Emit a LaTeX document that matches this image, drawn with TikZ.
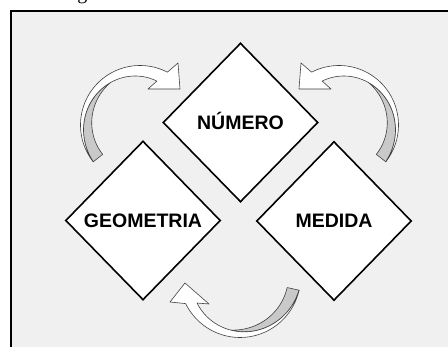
\documentclass[tikz,border=0pt]{standalone}
\usepackage{fontspec}
\setmainfont{Liberation Sans}
\newfontfamily\capserif{Liberation Serif}
\usetikzlibrary{shapes.geometric}

% W(theta): edge between white and grey faces; G(theta): inner edge of grey face
\newcommand\ribW{(\aR+(\aRW-\aR)*(\x-\aTA)/(\aTW-\aTA))}
\newcommand\ribG{(\aRG+(\aRM-\aRG)*((\x-\aTA)/(\aTM-\aTA))^2)}
\newcommand\drawribbon[1]{%
  \pgfmathsetmacro\aRM{\aR+(\aRW-\aR)*(\aTM-\aTA)/(\aTW-\aTA)}%
  \draw[faceg] plot[domain=\aTA:\aTM,samples=50] ({\aCX+\ribW*cos(\x)},{\aCY+\ribW*sin(\x)})
    -- plot[domain=\aTM:\aTA,samples=50] ({\aCX+\ribG*cos(\x)},{\aCY+\ribG*sin(\x)}) -- cycle;
  \draw[facew] plot[domain=\aTA:\aTB,samples=60] ({\aCX+\aR*cos(\x)},{\aCY+\aR*sin(\x)})
    -- (#1h1) -- (#1tip) -- (#1h2)
    -- plot[domain=\aTW:\aTA,samples=60] ({\aCX+\ribW*cos(\x)},{\aCY+\ribW*sin(\x)}) -- cycle;
}
\newcommand\setribA{\def\aCX{140}\def\aCY{125}\def\aR{59.5}\def\aTA{141.8}\def\aTB{297.4}%
  \def\aTW{291}\def\aRW{47}\def\aRG{47.5}\def\aTM{235}}
\newcommand\setribB{\def\aCX{240}\def\aCY{277}\def\aR{60.5}\def\aTA{12.6}\def\aTB{153.9}%
  \def\aTW{148.8}\def\aRW{50.2}\def\aRG{48.3}\def\aTM{100}}

\begin{document}
\begin{tikzpicture}[x=1pt,y=-1pt,
  topic/.style={diamond, draw=black, line width=1.6pt, fill=white,
    minimum width=155pt, minimum height=159pt, inner sep=0pt,
    font=\bfseries\fontsize{19.5}{20}\selectfont, text height=14pt, text depth=0pt},
  facew/.style={fill=white, draw=black!75, line width=0.6pt, line join=round},
  faceg/.style={fill=black!21, draw=black!75, line width=0.6pt, line join=round},
  frameline/.style={line width=2pt, draw=black}]
\useasboundingbox (0,0) rectangle (448,347);
\fill[white] (0,0) rectangle (448,347);
\fill[black!6] (10.5,11.5) rectangle (448,347);
\draw[frameline] (10.5,347) -- (10.5,11.5) -- (448,11.5);

% cut-off caption fragment above the frame
\node[font=\capserif\fontsize{20}{20}\selectfont, anchor=base, inner sep=0pt] (capfrag) at (82.5,0) {g};

% top-left curved arrow
\begin{scope}
  \setribA
  \coordinate (Lh1) at (178,63);
  \coordinate (Ltip) at (180,89);
  \coordinate (Lh2) at (148,89);
  \drawribbon{L}
\end{scope}
% top-right curved arrow (mirror of the top-left one)
\begin{scope}[xshift=479pt, xscale=-1]
  \setribA
  \coordinate (Rh1) at (178,63);
  \coordinate (Rtip) at (180,89);
  \coordinate (Rh2) at (148,89);
  \drawribbon{R}
\end{scope}
% bottom curved arrow
\begin{scope}
  \setribB
  \coordinate (Bh1) at (170,302);
  \coordinate (Btip) at (185,283);
  \coordinate (Bh2) at (209,304);
  \drawribbon{B}
\end{scope}

\node[topic] (numero) at (240.5,122.5) {NÚMERO};
\node[topic] (geometria) at (143,220.5) {GEOMETRIA};
\node[topic] (medida) at (334,221) {MEDIDA};
\end{tikzpicture}
\end{document}
